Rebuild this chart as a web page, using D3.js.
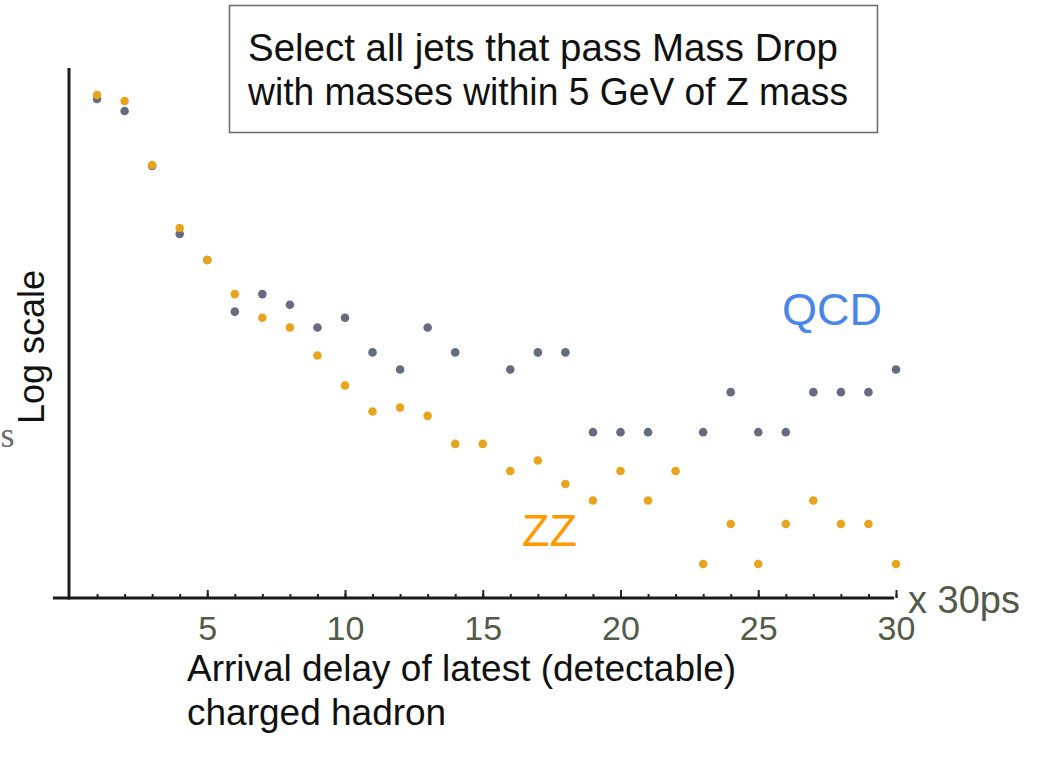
<!DOCTYPE html>
<html>
<head>
<meta charset="utf-8">
<script src="https://cdn.jsdelivr.net/npm/d3@7"></script>
<style>
  body { margin: 0; background: #fff; }
  svg { display: block; font-family: "Liberation Sans", Arial, sans-serif; }
</style>
</head>
<body>
<script>
// delay bins (x 30ps)
const bins = d3.range(1, 31);
// counts per bin, log scale (null = no entry)
const zzCounts = [3360, 3030, 1000, 336, 193, 107, 71, 60, 37, 22,
                  14, 15, 13, 8, 8, 5, 6, 4, 3, 5,
                  3, 5, 1, 2, 1, 2, 3, 2, 2, 1];
const qcdCounts = [3135, 2550, 983, 303, 193, 79, 107, 89, 60, 71,
                   39, 29, 60, 39, null, 29, 39, 39, 9.8, 9.8,
                   9.8, null, 9.8, 19.6, 9.8, 9.8, 19.6, 19.6, 19.6, 29];
const majorTicks = [5, 10, 15, 20, 25, 30];
const boxLines = ["Select all jets that pass Mass Drop", "with masses within 5 GeV of Z mass"];
const xLabelLines = ["Arrival delay of latest (detectable)", "charged hadron"];

const width = 1052, height = 762;
const svg = d3.select("body").append("svg")
  .attr("width", width)
  .attr("height", height);

const x = d3.scaleLinear().domain([0, 30]).range([69.5, 896]);
const y = d3.scaleLog().domain([1, 10]).range([564, 431]);
const axisY = 598;

// info box
svg.append("rect")
  .attr("x", 229.5).attr("y", 5.5)
  .attr("width", 648).attr("height", 127)
  .attr("fill", "#fff")
  .attr("stroke", "#6a6a6a")
  .attr("stroke-width", 1.5);

svg.append("g")
  .style("font-size", "38px")
  .attr("fill", "#111")
  .selectAll("text")
  .data(boxLines)
  .enter().append("text")
    .attr("x", 248)
    .attr("y", (d, i) => 61 + i * 44)
    .attr("textLength", (d, i) => i ? 600 : 590)
    .attr("lengthAdjust", "spacingAndGlyphs")
    .text(d => d);

// minor ticks
svg.append("g")
  .attr("transform", `translate(0,${axisY})`)
  .call(d3.axisBottom(x).tickValues(bins).tickSize(-4).tickFormat(""))
  .call(g => g.select(".domain").remove())
  .call(g => g.selectAll("line").attr("stroke", "#222").attr("stroke-width", 2));

// major ticks + labels
svg.append("g")
  .attr("transform", `translate(0,${axisY})`)
  .call(d3.axisBottom(x).tickValues(majorTicks).tickSize(-8).tickPadding(18))
  .call(g => g.select(".domain").remove())
  .call(g => g.selectAll("line").attr("stroke", "#222").attr("stroke-width", 2))
  .call(g => g.selectAll("text")
    .attr("fill", "#525a48")
    .style("font-family", "Liberation Sans, Arial, sans-serif")
    .style("font-size", "34px"));

// axis lines
svg.append("line")
  .attr("x1", 53).attr("x2", 894)
  .attr("y1", axisY).attr("y2", axisY)
  .attr("stroke", "#1a1a1a").attr("stroke-width", 3);

svg.append("line")
  .attr("x1", 69).attr("x2", 69)
  .attr("y1", 68).attr("y2", axisY + 1.5)
  .attr("stroke", "#1a1a1a").attr("stroke-width", 3);

svg.append("text")
  .attr("x", 908).attr("y", 613)
  .attr("fill", "#525a48")
  .style("font-size", "38px")
  .text("x 30ps");

// points
const qcd = bins.map((b, i) => ({ bin: b, v: qcdCounts[i] })).filter(d => d.v != null);
const zz = bins.map((b, i) => ({ bin: b, v: zzCounts[i] })).filter(d => d.v != null);

svg.append("g")
  .attr("fill", "#646c7d")
  .selectAll("circle")
  .data(qcd)
  .enter().append("circle")
    .attr("cx", d => x(d.bin))
    .attr("cy", d => y(d.v))
    .attr("r", 4.3);

svg.append("g")
  .attr("fill", "#e9a41d")
  .selectAll("circle")
  .data(zz)
  .enter().append("circle")
    .attr("cx", d => x(d.bin))
    .attr("cy", d => y(d.v))
    .attr("r", 4.3);

// series labels
svg.append("text")
  .attr("x", 782).attr("y", 325)
  .attr("fill", "#4a86e8")
  .style("font-size", "45px")
  .text("QCD");

svg.append("text")
  .attr("x", 522).attr("y", 546)
  .attr("fill", "#ff9900")
  .style("font-size", "45px")
  .text("ZZ");

// y label
svg.append("text")
  .attr("transform", "translate(44,347) rotate(-90)")
  .attr("text-anchor", "middle")
  .attr("fill", "#111")
  .style("font-size", "36px")
  .text("Log scale");

svg.append("text")
  .attr("x", 0.5).attr("y", 447)
  .attr("fill", "#6b6b6b")
  .style("font-family", "Liberation Serif, serif")
  .style("font-size", "36px")
  .text("s");

// x label
svg.append("g")
  .style("font-size", "37px")
  .attr("fill", "#111")
  .selectAll("text")
  .data(xLabelLines)
  .enter().append("text")
    .attr("x", 187)
    .attr("y", (d, i) => 681 + i * 44)
    .text(d => d);
</script>
</body>
</html>
